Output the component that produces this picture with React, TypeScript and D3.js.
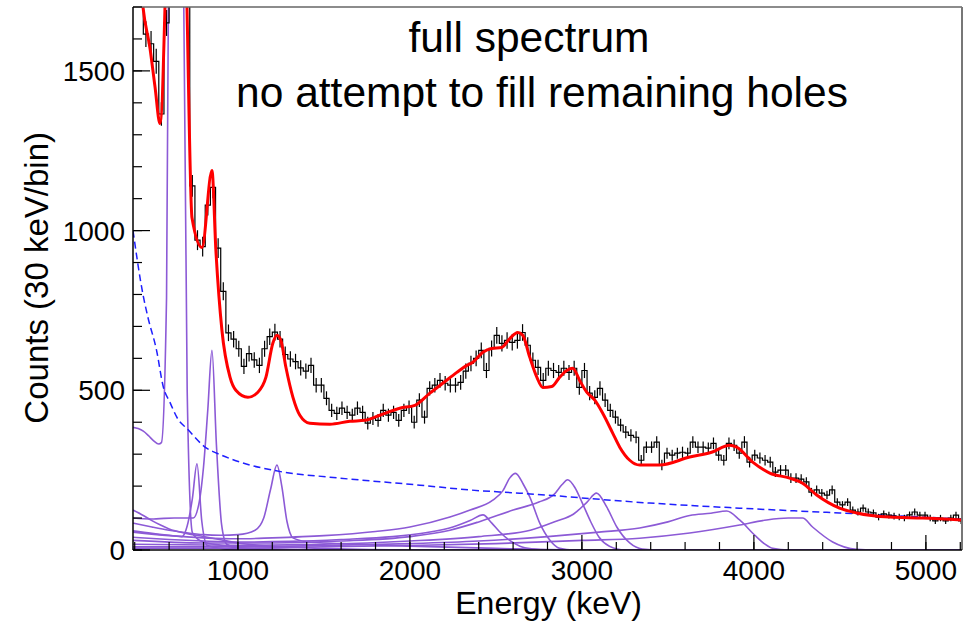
import React from 'react';
import * as d3 from 'd3';

const E_MIN = 390;
const E_MAX = 5210;
const BIN = 30;
const Y_MAX = 1700;

const xMajorTicks = [1000, 2000, 3000, 4000, 5000];
const xMinorTicks = d3.range(400, 5201, 200);
const yMajorTicks = [0, 500, 1000, 1500];
const yMinorTicks = d3.range(0, 1701, 100);

const titleLines = ['full spectrum', 'no attempt to fill remaining holes'];
const xTitle = 'Energy (keV)';
const yTitle = 'Counts (30 keV/bin)';

// measured counts per 30 keV bin, starting at 390 keV
const counts = [
  1800, 1760, 1615, 1585, 1530, 1365, 1650, 2600, 4500, 3500,
  1900, 1140, 970, 950, 1080, 1135, 945, 810, 680, 660,
  630, 575, 615, 595, 578, 630, 668, 682, 660, 612,
  598, 590, 570, 560, 578, 516, 516, 475, 437, 428,
  444, 431, 422, 444, 431, 397, 412, 406, 437, 422,
  431, 406, 437, 447, 400, 469, 416, 506, 516, 531,
  522, 516, 516, 525, 560, 584, 600, 625, 562, 631,
  672, 647, 656, 650, 656, 681, 641, 594, 572, 531,
  569, 562, 556, 569, 556, 569, 509, 562, 491, 478,
  506, 469, 437, 416, 391, 369, 359, 353, 281, 322,
  322, 338, 266, 303, 297, 303, 306, 303, 338, 322,
  322, 319, 334, 297, 281, 334, 328, 303, 338, 275,
  297, 288, 281, 275, 244, 250, 250, 225, 225, 222,
  213, 181, 188, 178, 172, 188, 150, 141, 150, 125,
  119, 131, 119, 116, 103, 113, 109, 106, 103, 100,
  110, 119, 109, 109, 100, 91, 100, 91, 100, 109,
  91,
];

// total fit (energy keV, counts)
const fitCurve: [number, number][] = [
  [390, 2000], [431, 1800], [448, 1700], [489, 1570], [518, 1450], [547, 1335],
  [576, 1700], [593, 2100], [634, 4000], [686, 2200], [704, 1700], [733, 1040],
  [791, 947], [849, 1188], [872, 937], [907, 688], [954, 541], [988, 500],
  [1058, 478], [1116, 494], [1163, 541], [1203, 647], [1227, 672], [1250, 656],
  [1279, 572], [1320, 478], [1360, 422], [1418, 397], [1535, 394], [1651, 403],
  [1738, 406], [1825, 422], [1941, 444], [2029, 453], [2116, 491], [2191, 522],
  [2273, 556], [2331, 578], [2366, 588], [2424, 619], [2476, 631], [2534, 634],
  [2581, 662], [2627, 681], [2656, 672], [2697, 603], [2738, 541], [2772, 509],
  [2825, 512], [2871, 541], [2912, 562], [2947, 569], [2987, 531], [3028, 494],
  [3075, 469], [3121, 428], [3179, 366], [3220, 322], [3278, 281], [3336, 266],
  [3452, 266], [3627, 291], [3754, 306], [3859, 328], [3900, 322], [3993, 275],
  [4092, 241], [4208, 225], [4283, 209], [4365, 172], [4498, 131], [4597, 116],
  [4789, 103], [4981, 100], [5210, 94],
];

// smooth background (dashed blue)
const background: [number, number][] = [
  [390, 1000], [448, 800], [477, 728], [527, 625], [566, 511], [605, 462],
  [651, 410], [702, 381], [820, 318], [878, 303], [1070, 266], [1203, 250],
  [1262, 244], [1535, 228], [2058, 203], [2348, 188], [2639, 178], [3394, 147],
  [3917, 131], [4498, 116], [5210, 97],
];

// individual components (purple)
const comp640: [number, number][] = [
  [390, 384], [420, 380], [450, 372], [480, 358], [510, 342], [540, 332], [555, 336],
  [585, 790], [615, 3500], [645, 5000], [675, 2400], [705, 500], [735, 55],
  [765, 35], [800, 25], [900, 15], [1000, 8], [1200, 2], [1500, 0], [5210, 0],
];
const comp849: [number, number][] = [
  [390, 100], [450, 98], [510, 97], [570, 99], [630, 100], [690, 100], [740, 100],
  [775, 150], [800, 260], [825, 440], [849, 625], [875, 330], [905, 80], [935, 18],
  [1000, 6], [1200, 2], [1500, 0], [5210, 0],
];
const comp762: [number, number][] = [
  [390, 60], [500, 52], [600, 46], [675, 42], [705, 75], [735, 160], [762, 270],
  [790, 90], [820, 15], [900, 5], [1000, 0], [5210, 0],
];
const comp1227: [number, number][] = [
  [390, 84], [500, 72], [600, 62], [700, 54], [800, 48], [900, 46], [1000, 48],
  [1100, 62], [1150, 100], [1190, 190], [1227, 266], [1255, 200], [1285, 90],
  [1320, 38], [1400, 26], [1600, 20], [2000, 12], [2500, 5], [3000, 0], [5210, 0],
];
const compLow: [number, number][] = [
  [390, 125], [450, 108], [500, 92], [550, 78], [600, 66], [700, 52], [800, 42],
  [900, 32], [1000, 22], [1200, 12], [1500, 5], [2000, 0], [5210, 0],
];
const comp2614: [number, number][] = [
  [390, 56], [600, 45], [800, 38], [1000, 35], [1200, 38], [1500, 45], [1800, 58],
  [2000, 72], [2233, 103], [2350, 125], [2482, 156], [2540, 185], [2580, 225],
  [2614, 240], [2660, 205], [2697, 166], [2755, 84], [2813, 31], [2871, 5],
  [2950, 0], [5210, 0],
];
const comp2425: [number, number][] = [
  [390, 40], [600, 33], [800, 28], [1000, 25], [1300, 27], [1600, 33], [1900, 42],
  [2100, 55], [2250, 72], [2350, 92], [2425, 110], [2475, 85], [2520, 58],
  [2580, 30], [2640, 12], [2720, 3], [2800, 0], [5210, 0],
];
const comp2917: [number, number][] = [
  [390, 30], [800, 22], [1200, 22], [1600, 28], [2000, 42], [2233, 62], [2400, 88],
  [2600, 125], [2750, 150], [2840, 175], [2885, 205], [2917, 220], [2960, 195],
  [3000, 150], [3050, 90], [3100, 40], [3160, 12], [3250, 0], [5210, 0],
];
const comp3085: [number, number][] = [
  [390, 18], [1000, 15], [1500, 18], [2000, 28], [2400, 42], [2700, 62], [2850, 90],
  [2950, 112], [3030, 150], [3085, 178], [3145, 134], [3203, 72], [3278, 22],
  [3350, 3], [3450, 0], [5210, 0],
];
const comp3842: [number, number][] = [
  [390, 10], [1000, 10], [1500, 14], [2000, 20], [2400, 28], [2800, 42], [3100, 56],
  [3336, 69], [3500, 88], [3627, 108], [3750, 115], [3842, 122], [3917, 94],
  [4004, 47], [4060, 20], [4109, 5], [4200, 0], [5210, 0],
];
const comp4250: [number, number][] = [
  [390, 6], [1000, 6], [1500, 10], [2000, 14], [2500, 20], [3000, 30], [3336, 37],
  [3627, 53], [3917, 78], [4074, 94], [4200, 100], [4283, 100], [4341, 72],
  [4458, 25], [4597, 2], [4700, 0], [5210, 0],
];

const components = [
  comp640, comp849, comp762, comp1227, compLow, comp2614, comp2425, comp2917,
  comp3085, comp3842, comp4250,
];

const FONT = '"Liberation Sans", Arial, Helvetica, sans-serif';

export default function App() {
  const left = 133, right = 962, top = 7, bottom = 550;
  const x = d3.scaleLinear().domain([E_MIN, E_MAX]).range([left, right]);
  const y = d3.scaleLinear().domain([0, Y_MAX]).range([bottom, top]);

  const stepPts: [number, number][] = counts.map((c, i) => [E_MIN + i * BIN, c]);
  stepPts.push([E_MIN + counts.length * BIN, counts[counts.length - 1]]);
  const stepLine = d3.line<[number, number]>()
    .x((d) => x(d[0]))
    .y((d) => y(d[1]))
    .curve(d3.curveStepAfter);

  const smooth = d3.line<[number, number]>()
    .x((d) => x(d[0]))
    .y((d) => y(d[1]))
    .curve(d3.curveMonotoneX);

  return (
    <svg
      width={975}
      height={622}
      style={{ position: 'absolute', left: 0, top: 0, background: '#fff' }}
      fontFamily={FONT}
    >
      <defs>
        <clipPath id="plotClip">
          <rect x={left} y={top} width={right - left} height={bottom - top} />
        </clipPath>
      </defs>
      <rect x={0} y={0} width={975} height={622} fill="#fff" />

      <g clipPath="url(#plotClip)">
        {components.map((c, i) => (
          <path
            key={i}
            d={smooth(c) || ''}
            fill="none"
            stroke="#8c5ad6"
            strokeWidth={1.6}
          />
        ))}
        <path
          d={smooth(background) || ''}
          fill="none"
          stroke="#1f1fff"
          strokeWidth={1.5}
          strokeDasharray="7,4"
        />
        <path d={stepLine(stepPts) || ''} fill="none" stroke="#000" strokeWidth={1.2} />
        {counts.map((c, i) => {
          const cx = x(E_MIN + (i + 0.5) * BIN);
          const err = Math.sqrt(c);
          return (
            <line
              key={i}
              x1={cx}
              x2={cx}
              y1={y(c - err)}
              y2={y(c + err)}
              stroke="#000"
              strokeWidth={1.2}
            />
          );
        })}
        <path
          d={smooth(fitCurve) || ''}
          fill="none"
          stroke="#ff0000"
          strokeWidth={3}
          strokeLinejoin="round"
        />
      </g>

      {/* frame */}
      <line x1={left} x2={right} y1={top} y2={top} stroke="#666" strokeWidth={1.5} />
      <line x1={right} x2={right} y1={top} y2={bottom} stroke="#777" strokeWidth={2} />
      <line x1={left} x2={left} y1={top} y2={bottom} stroke="#000" strokeWidth={1.5} />
      <line x1={left} x2={right} y1={bottom} y2={bottom} stroke="#000" strokeWidth={1.5} />

      {/* x ticks */}
      {xMinorTicks.map((t) => (
        <line key={'xm' + t} x1={x(t)} x2={x(t)} y1={bottom} y2={bottom - 8} stroke="#000" strokeWidth={1.2} />
      ))}
      {xMajorTicks.map((t) => (
        <g key={'xM' + t}>
          <line x1={x(t)} x2={x(t)} y1={bottom} y2={bottom - 15} stroke="#000" strokeWidth={1.2} />
          <text x={x(t)} y={580} textAnchor="middle" fontSize={28} fill="#000">
            {t}
          </text>
        </g>
      ))}

      {/* y ticks */}
      {yMinorTicks.map((t) => (
        <line key={'ym' + t} x1={left} x2={left + 9} y1={y(t)} y2={y(t)} stroke="#000" strokeWidth={1.2} />
      ))}
      {yMajorTicks.map((t) => (
        <g key={'yM' + t}>
          <line x1={left} x2={left + 17} y1={y(t)} y2={y(t)} stroke="#000" strokeWidth={1.2} />
          <text x={125} y={y(t) + 10} textAnchor="end" fontSize={28} fill="#000">
            {t}
          </text>
        </g>
      ))}

      {/* axis titles */}
      <text x={642} y={614} textAnchor="end" fontSize={32} fill="#000">
        {xTitle}
      </text>
      <text
        transform={`translate(48,132) rotate(-90)`}
        textAnchor="end"
        fontSize={33}
        fill="#000"
      >
        {yTitle}
      </text>

      {/* annotation */}
      <text x={529} y={52} textAnchor="middle" fontSize={42.5} fill="#000">
        {titleLines[0]}
      </text>
      <text x={542} y={107} textAnchor="middle" fontSize={42.5} fill="#000">
        {titleLines[1]}
      </text>
    </svg>
  );
}
